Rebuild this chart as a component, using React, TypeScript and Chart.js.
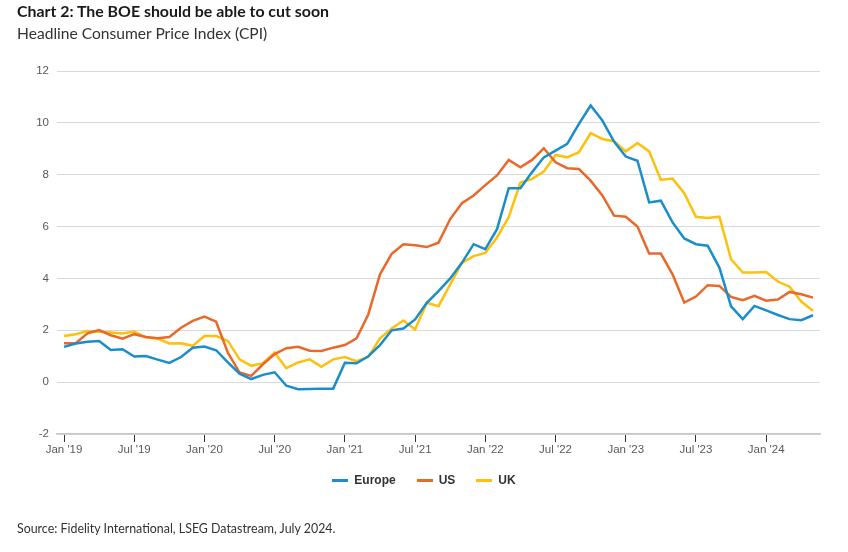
import React, { useEffect, useRef } from "react";
import { Chart, registerables } from "chart.js";

Chart.register(...registerables);

const TITLE = "Chart 2: The BOE should be able to cut soon";
const SUBTITLE = "Headline Consumer Price Index (CPI)";
const SOURCE = "Source: Fidelity International, LSEG Datastream, July 2024.";

// Monthly, Jan 2019 .. May 2024
const TICK_LABELS = ["Jan '19", "Jul '19", "Jan '20", "Jul '20", "Jan '21", "Jul '21", "Jan '22", "Jul '22", "Jan '23", "Jul '23", "Jan '24"];
const SERIES_NAMES = ["Europe", "US", "UK"];
const SERIES_COLORS = ["#1a8dcb", "#e8692a", "#fdc00c"];

const EUROPE = [
  1.36, 1.49, 1.56, 1.59, 1.24, 1.27, 0.99, 1.01, 0.87, 0.74, 0.97, 1.33,
  1.37, 1.23, 0.76, 0.33, 0.12, 0.28, 0.38, -0.14, -0.27, -0.26, -0.25, -0.25,
  0.75, 0.73, 1.0, 1.43, 2.0, 2.07, 2.42, 3.06, 3.51, 4.0, 4.6, 5.32,
  5.13, 5.9, 7.48, 7.48, 8.1, 8.67, 8.93, 9.19, 9.96, 10.67, 10.09, 9.28,
  8.7, 8.54, 6.93, 7.0, 6.16, 5.54, 5.32, 5.26, 4.42, 2.92, 2.43, 2.94,
  2.77, 2.59, 2.43, 2.39, 2.58,
];
const US = [
  1.5, 1.5, 1.88, 2.01, 1.81, 1.68, 1.85, 1.74, 1.69, 1.74, 2.1, 2.36,
  2.53, 2.33, 1.14, 0.37, 0.24, 0.69, 1.08, 1.31, 1.36, 1.21, 1.2, 1.33,
  1.43, 1.69, 2.61, 4.16, 4.95, 5.32, 5.28, 5.21, 5.38, 6.29, 6.9, 7.2,
  7.6, 7.97, 8.57, 8.29, 8.57, 9.02, 8.48, 8.25, 8.22, 7.77, 7.2, 6.42,
  6.38, 6.0, 4.96, 4.96, 4.16, 3.07, 3.3, 3.74, 3.71, 3.29, 3.16, 3.33,
  3.14, 3.19, 3.48, 3.39, 3.26,
];
const UK = [
  1.78, 1.85, 1.97, 1.94, 1.91, 1.88, 1.95, 1.72, 1.68, 1.49, 1.5, 1.4,
  1.78, 1.78, 1.59, 0.88, 0.63, 0.73, 1.14, 0.54, 0.76, 0.88, 0.59, 0.88,
  0.97, 0.81, 0.97, 1.69, 2.07, 2.38, 2.03, 3.06, 2.93, 3.77, 4.6, 4.86,
  4.98, 5.58, 6.36, 7.7, 7.84, 8.12, 8.76, 8.67, 8.87, 9.6, 9.38, 9.29,
  8.9, 9.22, 8.9, 7.8, 7.85, 7.29, 6.38, 6.33, 6.38, 4.74, 4.23, 4.23,
  4.25, 3.88, 3.68, 3.11, 2.75,
];
const SERIES = [EUROPE, US, UK];

const Y_MIN = -2;
const Y_MAX = 12;
const Y_STEP = 2;
const MONTHS_PER_TICK = 6;

const TICK_FONT = { family: "'Liberation Sans', Arial, sans-serif", size: 11.5 };

export default function App() {
  const ref = useRef<HTMLCanvasElement | null>(null);

  useEffect(() => {
    if (!ref.current) return;
    const chart = new Chart(ref.current, {
      type: "line",
      data: {
        datasets: SERIES.map((vals, si) => ({
          label: SERIES_NAMES[si],
          data: vals.map((v, i) => ({ x: i, y: v })),
          borderColor: SERIES_COLORS[si],
          backgroundColor: SERIES_COLORS[si],
          borderWidth: 2.5,
          pointRadius: 0,
          tension: 0,
          fill: false,
        })),
      },
      options: {
        responsive: false,
        animation: false,
        events: [],
        layout: { padding: { left: 0, right: 28, top: 71, bottom: 93 } },
        plugins: {
          legend: { display: false },
          tooltip: { enabled: false },
          title: { display: false },
        },
        scales: {
          x: {
            type: "linear",
            min: -0.6,
            max: EUROPE.length - 0.4,
            afterBuildTicks: (scale: any) => {
              scale.ticks = TICK_LABELS.map((_, i) => ({ value: i * MONTHS_PER_TICK }));
            },
            afterFit: (scale: any) => {
              scale.height = 25;
            },
            ticks: {
              autoSkip: false,
              maxRotation: 0,
              minRotation: 0,
              padding: 1,
              color: "#595959",
              font: TICK_FONT,
              callback: (v: any) => TICK_LABELS[Math.round(Number(v) / MONTHS_PER_TICK)] ?? "",
            },
            grid: {
              drawOnChartArea: false,
              drawTicks: true,
              tickLength: 8,
              color: "#333333",
              lineWidth: 1,
            },
            border: { display: true, color: "#c8c8c8", width: 1.5 },
          },
          y: {
            min: Y_MIN,
            max: Y_MAX,
            afterFit: (scale: any) => {
              scale.width = 57;
            },
            ticks: {
              stepSize: Y_STEP,
              padding: 8,
              color: "#595959",
              font: TICK_FONT,
            },
            grid: {
              color: "#d9d9d9",
              lineWidth: 1,
              drawTicks: false,
            },
            border: { display: false },
          },
        },
      },
    });
    return () => chart.destroy();
  }, []);

  const legendFont = "bold 12px 'Liberation Sans', Arial, sans-serif";

  return (
    <div style={{ position: "fixed", left: 0, top: 0, width: 848, height: 552, background: "#fff", overflow: "hidden" }}>
      <canvas ref={ref} width={848} height={552} style={{ position: "absolute", left: 0, top: 0, width: 848, height: 552 }} />
      <div style={{ position: "absolute", left: 17, top: 1, font: "bold 15.9px Lato, sans-serif", color: "#1a1a1a", whiteSpace: "nowrap" }}>
        {TITLE}
      </div>
      <div style={{ position: "absolute", left: 17, top: 24, font: "15.6px Lato, sans-serif", color: "#333", whiteSpace: "nowrap" }}>
        {SUBTITLE}
      </div>
      <div style={{ position: "absolute", left: 0, width: 848, top: 473, display: "flex", justifyContent: "center", alignItems: "center", gap: 21 }}>
        {SERIES_NAMES.map((n, i) => (
          <div key={n} style={{ display: "flex", alignItems: "center" }}>
            <span style={{ display: "inline-block", width: 16, height: 3, background: SERIES_COLORS[i], marginRight: 6 }} />
            <span style={{ font: legendFont, color: "#333" }}>{n}</span>
          </div>
        ))}
      </div>
      <div style={{ position: "absolute", left: 17, top: 521, font: "12.4px Lato, sans-serif", color: "#333", whiteSpace: "nowrap" }}>
        {SOURCE}
      </div>
    </div>
  );
}
